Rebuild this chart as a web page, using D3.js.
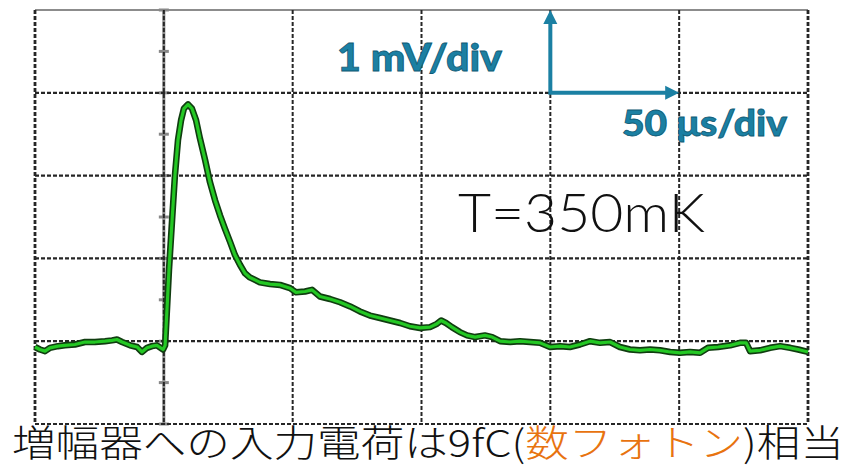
<!DOCTYPE html>
<html>
<head>
    <meta charset="utf-8">
    <title>Pulse at 350mK</title>
    <script src="https://d3js.org/d3.v7.min.js"></script>
</head>
<style>
    body { margin: 0; background: #fff; }
    .grid { fill: none; stroke: #262626; stroke-width: 2.2px; stroke-dasharray: 4, 2; }
    .scale-label { font-family: Lato, "DejaVu Sans", sans-serif; font-weight: 900; fill: #1b80a3; stroke: #0e5a74; stroke-width: 0.8px; }
</style>
<body>
<script>
    // time in us (50 us/div), voltage in mV (1 mV/div)
    let timeUs = [0, 1.9, 3.9, 5.8, 8.9, 11.6, 15.5, 19.4, 23.3, 27.2, 29.9, 31.8, 33.8, 36.9, 39.6, 41.5,
        43.5, 45.4, 47.3, 49.7, 50.5, 51.2, 52.0, 53.2, 54.3, 55.5, 56.7, 57.8, 59.4, 60.9, 62.5, 64.0,
        66.0, 67.9, 69.9, 71.8, 73.7, 75.7, 77.6, 79.6, 81.5, 83.4, 85.4, 87.3, 91.2, 95.1, 99.0, 101.3,
        104.8, 107.5, 110.6, 114.5, 118.4, 122.3, 126.1, 130.0, 133.9, 137.8, 141.7, 145.5, 149.4, 153.3,
        156.0, 157.6, 159.5, 161.8, 164.9, 167.7, 170.8, 174.6, 177.4, 180.5, 184.4, 188.2, 192.1, 196.0,
        199.9, 203.8, 207.6, 211.5, 215.4, 219.3, 223.2, 227.0, 230.9, 234.8, 238.7, 242.6, 246.5, 250.3,
        254.2, 258.1, 261.2, 265.1, 269.8, 273.6, 276.0, 277.5, 281.4, 285.3, 289.2, 293.1, 296.2, 300.0];
    let signalMv = [-0.07, -0.10, -0.12, -0.08, -0.06, -0.05, -0.04, -0.01, -0.01, 0.00, 0.01, 0.02, -0.01, -0.05, -0.07, -0.13,
        -0.08, -0.06, -0.05, -0.10, -0.05, 0.37, 0.86, 1.46, 2.00, 2.43, 2.67, 2.81, 2.86, 2.81, 2.67, 2.45,
        2.19, 1.92, 1.70, 1.52, 1.36, 1.20, 1.04, 0.92, 0.82, 0.77, 0.74, 0.71, 0.69, 0.68, 0.64, 0.59,
        0.60, 0.62, 0.54, 0.51, 0.47, 0.42, 0.36, 0.31, 0.28, 0.25, 0.22, 0.18, 0.16, 0.17,
        0.21, 0.25, 0.22, 0.17, 0.11, 0.07, 0.05, 0.07, 0.05, 0.00, -0.01, 0.00, -0.01, -0.02,
        -0.07, -0.06, -0.07, -0.04, 0.00, -0.02, -0.01, -0.07, -0.10, -0.11, -0.10, -0.11, -0.13, -0.14,
        -0.13, -0.14, -0.08, -0.07, -0.05, -0.02, -0.02, -0.12, -0.11, -0.08, -0.06, -0.08, -0.10, -0.13];

    let xTicks = [0, 50, 100, 150, 200, 250, 300];
    let yTicks = [-1, 0, 1, 2, 3, 4];
    let axisMarks = [-0.5, 0.5, 1.5, 2.5, 3.5];

    let svgwidth = 847, svgheight = 469;
    let x = d3.scaleLinear().domain([0, 300]).range([35, 808]);
    let y = d3.scaleLinear().domain([-1, 4]).range([424, 10]);

    let svg = d3.select("body").append("svg")
        .attr("width", svgwidth)
        .attr("height", svgheight);

    // top border, thin solid
    svg.append("line")
        .attr("x1", x(0)).attr("x2", x(300))
        .attr("y1", y(4)).attr("y2", y(4))
        .attr("stroke", "#666").attr("stroke-width", 1.5);

    // center axis (grey solid) at 50 us
    svg.append("line")
        .attr("x1", x(50)).attr("x2", x(50))
        .attr("y1", y(4)).attr("y2", y(-1))
        .attr("stroke", "#888").attr("stroke-width", 3);
    svg.selectAll(".amark")
        .data(axisMarks.concat(yTicks))
        .enter().append("line")
        .attr("x1", x(50) - 5).attr("x2", x(50) + 5)
        .attr("y1", d => y(d)).attr("y2", d => y(d))
        .attr("stroke", "#888").attr("stroke-width", 3);

    // dashed grid
    svg.selectAll(".hgrid")
        .data(yTicks.filter(d => d < 4))
        .enter().append("line")
        .attr("class", "grid")
        .attr("x1", x(0)).attr("x2", x(300))
        .attr("y1", d => y(d)).attr("y2", d => y(d));
    svg.selectAll(".vgrid")
        .data(xTicks)
        .enter().append("line")
        .attr("class", "grid")
        .attr("y1", y(4)).attr("y2", y(-1))
        .attr("x1", d => x(d)).attr("x2", d => x(d))
        .style("stroke-width", d => (d == 0 || d == 300) ? 2.8 : 2);

    // trace
    let data = timeUs.map((t, i) => ({t: t, v: signalMv[i]}));
    let line = d3.line().x(d => x(d.t)).y(d => y(d.v));
    svg.append("path").datum(data)
        .attr("d", line)
        .attr("fill", "none").attr("stroke", "#103d10")
        .attr("stroke-width", 6.5).attr("stroke-linejoin", "round");
    svg.append("path").datum(data)
        .attr("d", line)
        .attr("fill", "none").attr("stroke", "#24c824")
        .attr("stroke-width", 3.2).attr("stroke-linejoin", "round");

    // scale arrows: 1 div each
    let blue = "#1b80a3";
    svg.append("path")
        .attr("d", "M" + x(200) + "," + (y(4) + 12) + " L" + x(200) + "," + y(3) + " L" + (x(250) - 12) + "," + y(3))
        .attr("fill", "none").attr("stroke", blue).attr("stroke-width", 4);
    svg.append("path")
        .attr("d", "M" + x(200) + "," + y(4) + " l-7,14 l14,0 z")
        .attr("fill", blue);
    svg.append("path")
        .attr("d", "M" + x(250) + "," + y(3) + " l-14,-7 l0,14 z")
        .attr("fill", blue);

    svg.append("text")
        .attr("class", "scale-label")
        .attr("x", 337).attr("y", 71)
        .attr("font-size", 38)
        .attr("textLength", 165).attr("lengthAdjust", "spacingAndGlyphs")
        .text("1 mV/div");
    svg.append("text")
        .attr("class", "scale-label")
        .attr("x", 622).attr("y", 136)
        .attr("font-size", 36)
        .attr("textLength", 165).attr("lengthAdjust", "spacingAndGlyphs")
        .text("50 μs/div");

    svg.append("text")
        .attr("x", 458).attr("y", 232)
        .attr("font-family", "Lato, 'Noto Sans', sans-serif")
        .attr("font-weight", 300)
        .attr("font-size", 53)
        .attr("fill", "#111")
        .attr("textLength", 247).attr("lengthAdjust", "spacingAndGlyphs")
        .text("T=350mK");

    // caption
    let caption = svg.append("text")
        .attr("x", 12).attr("y", 457)
        .attr("font-family", "'Noto Sans CJK JP', sans-serif")
        .attr("font-weight", 300)
        .attr("font-size", 37)
        .attr("fill", "#111")
        .attr("textLength", 832).attr("lengthAdjust", "spacingAndGlyphs");
    caption.append("tspan").text("増幅器への入力電荷は9fC(");
    caption.append("tspan").attr("fill", "#e8730f").text("数フォトン");
    caption.append("tspan").text(")相当");
</script>
</body>
</html>
